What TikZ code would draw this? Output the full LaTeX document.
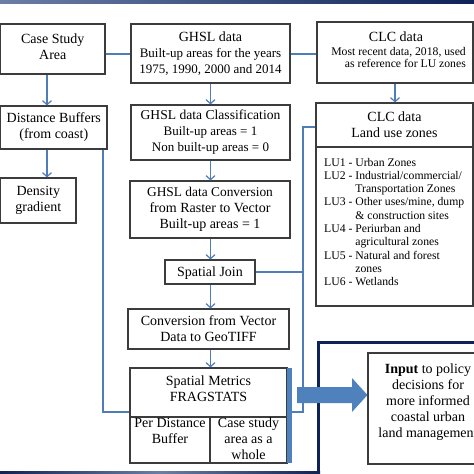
\documentclass[tikz,border=0pt]{standalone}
\usepackage{fontspec}
\setmainfont{Liberation Serif}
\usetikzlibrary{arrows.meta,calc}
\definecolor{boxc}{HTML}{3C3C3C}
\definecolor{lnc}{HTML}{4F7DB8}
\definecolor{arrc}{HTML}{4F81BD}
\definecolor{navy}{HTML}{0E2257}
\definecolor{slate}{HTML}{6A7EA6}
\newcommand{\fsub}{\fontsize{13}{15}\selectfont}
\newcommand{\fsmall}{\fontsize{11.7}{13.3}\selectfont}
\begin{document}
\begin{tikzpicture}[x=1pt,y=-1pt,
  box/.style={draw=boxc,line width=1.1pt,inner sep=0pt,align=center,font=\fontsize{14}{16}\selectfont},
  plainbox/.style={draw=boxc,line width=1.1pt,inner sep=0pt},
  txt/.style={inner sep=0pt,align=center,font=\fontsize{14}{16}\selectfont},
  ln/.style={draw=lnc,line width=1.4pt},
  arr/.style={ln,-{Straight Barb[length=4pt,width=9pt,line width=1.2pt]}},
  ]
\useasboundingbox (0,0) rectangle (474,474);
\clip (0,0) rectangle (474,474);
\fill[white] (0,0) rectangle (474,474);
% top band
\shade[left color=slate,right color=navy] (0,0) rectangle (474,3.2);
% bottom band
\shade[left color=navy,right color=navy,middle color=slate] (0,471) rectangle (320,474);
% frame
\draw[navy,line width=3pt] (318,472) -- (318,342) -- (476,342);

% column coordinates
\coordinate (cA) at (47,0);
\coordinate (cM) at (210.5,0);
\coordinate (r1) at (0,54);
\coordinate (k1) at (103,412);
\coordinate (k2) at (303,412);
\coordinate (r2) at (0,127);

% boxes
\node[plainbox,minimum width=104.4pt,minimum height=50pt] (csa) at (52.8,49) {};
\node[txt] (csat) at (52.8,46.5) {Case Study\\Area};
\node[box,minimum width=159pt,minimum height=59pt] (ghsl) at (210.5,53.5)
  {GHSL data\\\fsub Built-up areas for the years\\\fsub 1975, 1990, 2000 and 2014};
\node[plainbox,minimum width=156pt,minimum height=61pt] (clc) at (395,52.5) {};
\node[txt] (clch) at (396,36.5) {CLC data};
\node[inner sep=0pt,align=right,anchor=east,font=\fontsize{11.7}{12.6}\selectfont] (clcs) at (466,57.5)
  {Most recent data, 2018, used\\as reference for LU zones};
\node[box,minimum width=106.4pt,minimum height=43pt] (buf) at (53.8,127.5) {Distance Buffers\\(from coast)};
\node[box,minimum width=159pt,minimum height=55pt] (cls) at (210.5,132.5)
  {\fontsize{13.6}{16}\selectfont GHSL data Classification\\\fsub Built-up areas = 1\\\fsub Non built-up areas = 0};
\node[plainbox,minimum width=157pt,minimum height=203pt] (lu) at (394.5,204.5) {};
\draw[boxc,line width=1.1pt] (lu.west |- 0,147) -- (lu.east |- 0,147);
\node[txt] (luh) at (394.5,125) {CLC data\\Land use zones};
\node[inner sep=0pt,anchor=base west,font=\fsmall] (lul) at (324,166)
  {\begin{tabular}[t]{@{}l@{\ }l@{}}
   LU1 -& Urban Zones\\
   LU2 -& Industrial/commercial/\\
        & Transportation Zones\\
   LU3 -& Other uses/mine, dump\\
        & \& construction sites\\
   LU4 -& Periurban and\\
        & agricultural zones\\
   LU5 -& Natural and forest\\
        & zones\\
   LU6 -& Wetlands
   \end{tabular}};
\node[box,minimum width=75.4pt,minimum height=45pt] (dens) at (38.3,200.5) {Density\\gradient};
\node[box,minimum width=160pt,minimum height=57pt] (conv) at (210,209.5)
  {\fontsize{13.4}{15.5}\selectfont GHSL data Conversion\\from Raster to Vector\\Built-up areas = 1};
\node[plainbox,minimum width=90pt,minimum height=24pt] (join) at (210,272) {};
\node[txt] (joint) at (210,273.5) {Spatial Join};
\node[box,minimum width=161pt,minimum height=40pt] (geo) at (208.5,329) {Conversion from Vector\\Data to GeoTIFF};
\node[plainbox,minimum width=157pt,minimum height=95pt] (sm) at (208.5,415.5) {};
\draw[boxc,line width=1.1pt] (sm.west |- 0,417) -- (sm.east |- 0,417);
\draw[boxc,line width=1.1pt] (210,417) -- (210,463);
\node[txt] (smh) at (208.5,389) {Spatial Metrics\\FRAGSTATS};
\node[txt,anchor=north] (smA) at (170,418) {Per Distance\\Buffer};
\node[txt] (smB) at (248.5,439) {Case study\\area as a\\whole};
\node[fill=arrc,inner sep=0pt,minimum width=5pt,minimum height=95pt] (bar) at (289.5,415.5) {};
\node[box,minimum width=120pt,minimum height=111pt] (inp) at (428,408.5) {};
\node[txt] (inpt) at (428,402) {\textbf{Input} to policy\\decisions for\\more informed\\coastal urban\\land management};

% connectors
\draw[ln] (csa.east |- r1) -- (ghsl.west |- r1);
\draw[ln] (ghsl.east |- r1) -- (clc.west |- r1);
\draw[arr] (csa.south -| cA) -- (buf.north -| cA);
\draw[arr] (buf.south -| cA) -- (dens.north -| cA);
\draw[arr] (ghsl.south -| cM) -- (cls.north -| cM);
\draw[arr] (clc.south) -- (lu.north -| clc.south);
\draw[arr] (cls.south -| cM) -- (conv.north -| cM);
\draw[arr] (conv.south -| cM) -- (join.north -| cM);
\draw[arr] (join.south -| cM) -- (geo.north -| cM);
\draw[arr] (geo.south -| cM) -- (sm.north -| cM);
\draw[ln] (buf.south -| k1) |- (sm.west |- k1);
\draw[ln] (lu.west |- r2) -| (k2) -- (bar.east |- k2);
\draw[ln] (join.east) -- (join.east -| k2);
% big arrow
\fill[arrc] (297,387) -- (352,387) -- (352,378) -- (inp.west |- 0,395) -- (352,412) -- (352,403) -- (297,403) -- cycle;
\end{tikzpicture}
\end{document}
